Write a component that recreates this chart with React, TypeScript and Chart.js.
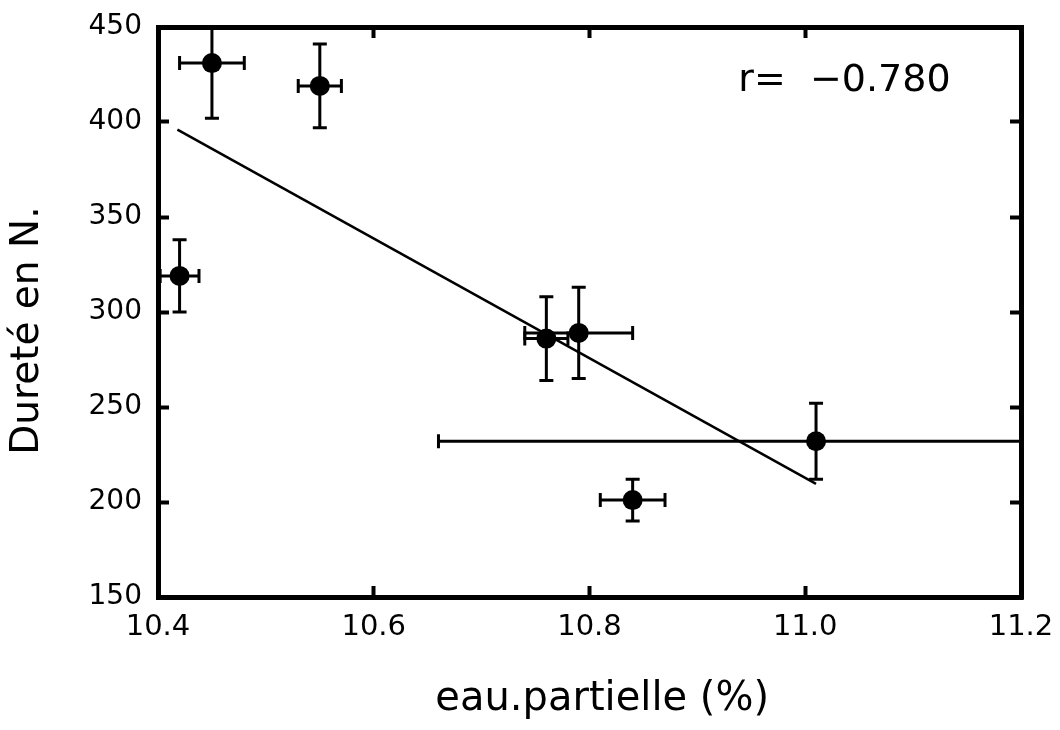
import React, { useEffect, useRef } from "react";
import { Chart, registerables } from "chart.js";

Chart.register(...registerables);

// ---- data ----
const waterContent = [10.45, 10.55, 10.42, 10.76, 10.79, 11.01, 10.84];
const hardness = [431, 419, 319, 286, 289, 232, 201];
const waterError = [0.03, 0.02, 0.018, 0.02, 0.05, 0.35, 0.03];
const hardnessError = [29, 22, 19, 22, 24, 20, 11];

const fitX = [10.418, 11.01];
const fitY = [396, 209.5];

const xTicks = [10.4, 10.6, 10.8, 11.0, 11.2];
const yTicks = [150, 200, 250, 300, 350, 400, 450];

const xTitle = "  eau.partielle (%)";
const yTitle = "Dureté en N.   ";
const correlationLabel = "r=  \u22120.780";

const FONT = "'DejaVu Sans', 'Liberation Sans', sans-serif";

const errorBarPlugin = {
  id: "errorBars",
  afterDatasetsDraw(chart: any) {
    const { ctx, chartArea } = chart;
    const xs = chart.scales.x;
    const ys = chart.scales.y;
    const cap = 7;
    ctx.save();
    ctx.beginPath();
    ctx.rect(chartArea.left, chartArea.top, chartArea.right - chartArea.left, chartArea.bottom - chartArea.top);
    ctx.clip();
    ctx.strokeStyle = "#000";
    ctx.lineWidth = 3;
    ctx.lineCap = "butt";
    for (let i = 0; i < waterContent.length; i++) {
      const px = xs.getPixelForValue(waterContent[i]);
      const py = ys.getPixelForValue(hardness[i]);
      const xl = xs.getPixelForValue(waterContent[i] - waterError[i]);
      const xr = xs.getPixelForValue(waterContent[i] + waterError[i]);
      const yt = ys.getPixelForValue(hardness[i] + hardnessError[i]);
      const yb = ys.getPixelForValue(hardness[i] - hardnessError[i]);
      ctx.beginPath();
      ctx.moveTo(px, yt);
      ctx.lineTo(px, yb);
      ctx.moveTo(px - cap, yt);
      ctx.lineTo(px + cap, yt);
      ctx.moveTo(px - cap, yb);
      ctx.lineTo(px + cap, yb);
      ctx.moveTo(xl, py);
      ctx.lineTo(xr, py);
      ctx.moveTo(xl, py - cap);
      ctx.lineTo(xl, py + cap);
      ctx.moveTo(xr, py - cap);
      ctx.lineTo(xr, py + cap);
      ctx.stroke();
    }
    ctx.restore();
  },
};

const annotationX = 10.938;
const annotationY = 416.5;

const annotationPlugin = {
  id: "rLabel",
  afterDraw(chart: any) {
    const { ctx } = chart;
    const x = chart.scales.x.getPixelForValue(annotationX);
    const y = chart.scales.y.getPixelForValue(annotationY);
    ctx.save();
    ctx.fillStyle = "#000";
    ctx.font = `38px ${FONT}`;
    ctx.textAlign = "left";
    ctx.textBaseline = "alphabetic";
    ctx.fillText(correlationLabel, x, y);
    ctx.restore();
  },
};

const zeroPad = (s: any) => {
  s.paddingTop = 0;
  s.paddingBottom = 0;
  s.paddingLeft = 0;
  s.paddingRight = 0;
};

export default function App() {
  const canvasRef = useRef<HTMLCanvasElement | null>(null);

  useEffect(() => {
    if (!canvasRef.current) return;
    const gridCommon = {
      display: true,
      drawOnChartArea: false,
      drawTicks: true,
      tickLength: -11,
      tickWidth: 4,
      tickColor: "#000",
    };
    const borderCommon = { display: true, width: 5, color: "#000" };

    const chart = new Chart(canvasRef.current, {
      type: "scatter",
      data: {
        datasets: [
          {
            label: "points",
            data: waterContent.map((x, i) => ({ x, y: hardness[i] })),
            backgroundColor: "#000",
            borderColor: "#000",
            pointRadius: 10,
            pointHoverRadius: 10,
            borderWidth: 0,
          },
          {
            label: "fit",
            data: fitX.map((x, i) => ({ x, y: fitY[i] })),
            showLine: true,
            borderColor: "#000",
            borderWidth: 2.5,
            pointRadius: 0,
            fill: false,
          } as any,
        ],
      },
      options: {
        animation: false,
        responsive: false,
        maintainAspectRatio: false,
        layout: { padding: 0 },
        plugins: {
          legend: { display: false },
          tooltip: { enabled: false },
        },
        scales: {
          x: {
            type: "linear",
            position: "bottom",
            min: 10.4,
            max: 11.2,
            afterBuildTicks: (s: any) => {
              s.ticks = xTicks.map((v) => ({ value: v }));
            },
            afterFit: (s: any) => {
              s.height = 133;
              zeroPad(s);
            },
            grid: gridCommon,
            border: borderCommon,
            ticks: {
              padding: 24,
              color: "#000",
              maxRotation: 0,
              autoSkip: false,
              font: { family: FONT, size: 29 },
              callback: (v: any) => Number(v).toFixed(1),
            },
            title: {
              display: true,
              text: xTitle,
              color: "#000",
              font: { family: FONT, size: 40 },
              padding: { top: 0, bottom: 6 },
            },
          },
          x2: {
            type: "linear",
            position: "top",
            min: 10.4,
            max: 11.2,
            afterBuildTicks: (s: any) => {
              s.ticks = xTicks.map((v) => ({ value: v }));
            },
            afterFit: (s: any) => {
              s.height = 27;
              zeroPad(s);
            },
            grid: gridCommon,
            border: borderCommon,
            ticks: { display: false },
          },
          y: {
            type: "linear",
            position: "left",
            min: 150,
            max: 450,
            afterBuildTicks: (s: any) => {
              s.ticks = yTicks.map((v) => ({ value: v }));
            },
            afterFit: (s: any) => {
              s.width = 158;
              zeroPad(s);
            },
            grid: gridCommon,
            border: borderCommon,
            ticks: {
              padding: 27,
              color: "#000",
              autoSkip: false,
              font: { family: FONT, size: 28 },
            },
            title: {
              display: true,
              text: yTitle,
              color: "#000",
              font: { family: FONT, size: 39 },
              padding: { top: 4, bottom: 0 },
            },
          },
          y2: {
            type: "linear",
            position: "right",
            min: 150,
            max: 450,
            afterBuildTicks: (s: any) => {
              s.ticks = yTicks.map((v) => ({ value: v }));
            },
            afterFit: (s: any) => {
              s.width = 39;
              zeroPad(s);
            },
            grid: gridCommon,
            border: borderCommon,
            ticks: { display: false },
          },
        },
      } as any,
      plugins: [errorBarPlugin, annotationPlugin],
    });
    return () => chart.destroy();
  }, []);

  return (
    <div style={{ position: "absolute", left: 0, top: 0, width: 1060, height: 730, background: "#fff" }}>
      <canvas ref={canvasRef} width={1060} height={730} style={{ display: "block" }} />
    </div>
  );
}
